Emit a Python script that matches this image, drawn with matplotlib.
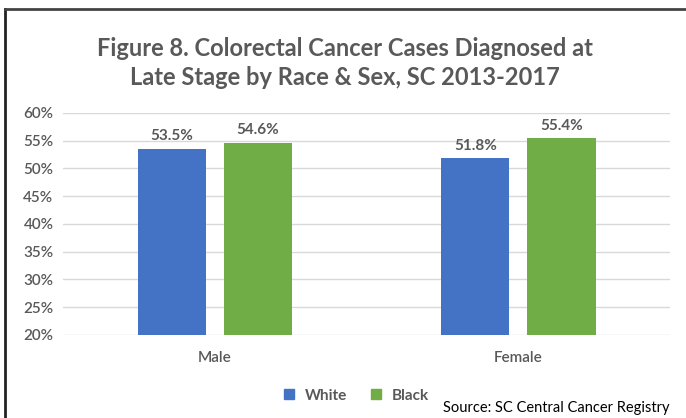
import matplotlib.pyplot as plt
import numpy as np
from matplotlib.lines import Line2D

# Данные
categories = ['Male', 'Female']
white = [53.5, 51.8]
black = [54.6, 55.4]
series_names = ['White', 'Black']
colors = ['#4472C4', '#70AD47']
y_ticks = [20, 25, 30, 35, 40, 45, 50, 55, 60]

plt.rcParams['font.family'] = ['Lato', 'DejaVu Sans']
text_color = '#595959'

fig = plt.figure(figsize=(6.86, 4.18), dpi=100)
ax = fig.add_axes([0.092, 0.199, 0.885, 0.531])

x = np.arange(len(categories))
w = 0.225
off = 0.142
ax.bar(x - off, white, width=w, color=colors[0], zorder=3)
ax.bar(x + off, black, width=w, color=colors[1], zorder=3)

# Подписи значений
for xi, v in zip(x - off, white):
    ax.text(xi, v + 1.0, f'{v:.1f}%', ha='center', va='bottom',
            fontsize=11, fontweight='bold', color=text_color)
for xi, v in zip(x + off, black):
    ax.text(xi, v + 1.0, f'{v:.1f}%', ha='center', va='bottom',
            fontsize=11, fontweight='bold', color=text_color)

ax.set_xlim(-0.5, 1.5)
ax.set_ylim(20, 60)
ax.set_yticks(y_ticks)
ax.set_yticklabels([f'{t}%' for t in y_ticks])
ax.set_xticks(x)
ax.set_xticklabels(categories)
ax.yaxis.grid(True, color='#D9D9D9', linewidth=1, zorder=0)
for s in ax.spines.values():
    s.set_visible(False)
ax.tick_params(axis='both', length=0, colors=text_color, labelsize=11)
ax.tick_params(axis='x', pad=12)
ax.tick_params(axis='y', pad=7)
for lab in ax.get_yticklabels() + ax.get_xticklabels():
    lab.set_fontweight('semibold')

fig.text(0.503, 0.85, 'Figure 8. Colorectal Cancer Cases Diagnosed at\nLate Stage by Race & Sex, SC 2013-2017',
         ha='center', va='center', fontsize=17, fontweight='bold',
         color=text_color, linespacing=1.3)

handles = [Line2D([0], [0], marker='s', linestyle='', markersize=7,
                  markerfacecolor=c, markeredgecolor=c) for c in colors]
fig.legend(handles, series_names, loc='center', bbox_to_anchor=(0.512, 0.053),
           ncol=2, frameon=False, handletextpad=0.05,
           columnspacing=0.9, labelcolor=text_color,
           prop={'weight': 'bold', 'size': 11})

fig.text(0.976, 0.025, 'Source: SC Central Cancer Registry', ha='right',
         va='center', fontsize=10.5, color='black')

# Рамка сверху и слева
fig.add_artist(Line2D([0.008, 0.008], [0, 0.978], color='#222222', linewidth=2))
fig.add_artist(Line2D([0.008, 1.0], [0.978, 0.978], color='#444444', linewidth=2))

fig.savefig('out.png', dpi=100)
